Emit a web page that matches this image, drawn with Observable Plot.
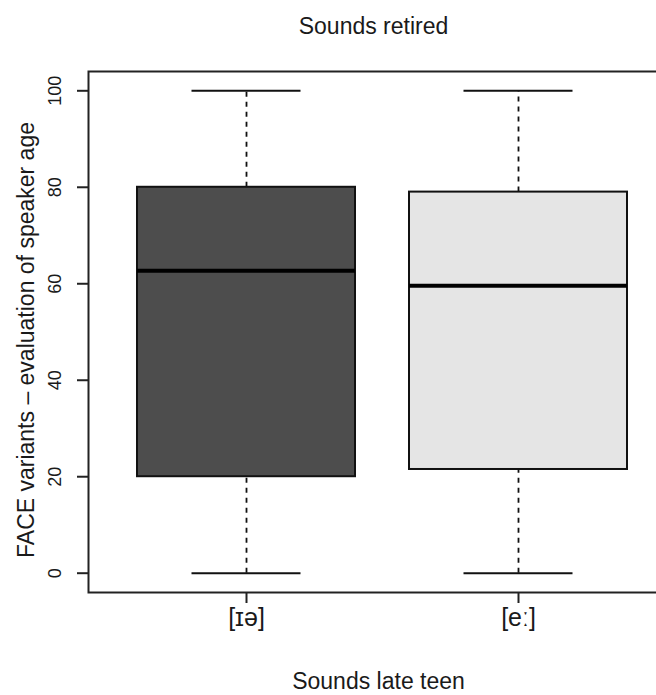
<!DOCTYPE html>
<html>
<head>
<meta charset="utf-8">
<script src="https://cdn.jsdelivr.net/npm/d3@7"></script>
<script src="https://cdn.jsdelivr.net/npm/@observablehq/plot@0.6"></script>
<style>
  html, body { margin: 0; padding: 0; background: #fff; overflow: hidden; }
  #chart svg { display: block; }
</style>
</head>
<body>
<div id="chart"></div>
<script>
// Evaluation of speaker age by FACE variant (five-number summaries per box)
const categories = ["[ɪə]", "[eː]"];
const lowerWhisker = [0, 0];
const lowerQuartile = [20, 21.5];
const medianValue = [62.7, 59.6];
const upperQuartile = [80, 79];
const upperWhisker = [100, 100];
const yTicks = [0, 20, 40, 60, 80, 100];
const boxFill = ["#4d4d4d", "#e5e5e5"];

const titleText = "Sounds retired";
const xLabel = "Sounds late teen";
const yLabel = "FACE variants \u2013 evaluation of speaker age";

const rows = categories.map((sound, i) => ({
  sound,
  lo: lowerWhisker[i],
  q1: lowerQuartile[i],
  med: medianValue[i],
  q3: upperQuartile[i],
  hi: upperWhisker[i]
}));

const ink = "#1a1a1a";

const chart = Plot.plot({
  width: 680,
  height: 695,
  marginLeft: 88,
  marginRight: 4,
  marginTop: 71,
  marginBottom: 103,
  style: {
    fontFamily: "'Liberation Sans', Arial, Helvetica, sans-serif",
    background: "white",
    color: ink,
    maxWidth: "none",
    overflow: "hidden"
  },
  x: {domain: categories, paddingInner: 0.2, paddingOuter: 0.18},
  y: {domain: [-4, 104]},
  color: {domain: categories, range: boxFill},
  marks: [
    // whiskers
    Plot.ruleX(rows, {x: "sound", y1: "lo", y2: "q1", stroke: "#111", strokeWidth: 1.8, strokeDasharray: "5,5"}),
    Plot.ruleX(rows, {x: "sound", y1: "q3", y2: "hi", stroke: "#111", strokeWidth: 1.8, strokeDasharray: "5,5"}),
    // staples
    Plot.tickY(rows, {x: "sound", y: "lo", insetLeft: 54.5, insetRight: 54.5, stroke: "#111", strokeWidth: 2}),
    Plot.tickY(rows, {x: "sound", y: "hi", insetLeft: 54.5, insetRight: 54.5, stroke: "#111", strokeWidth: 2}),
    // boxes
    Plot.barY(rows, {x: "sound", y1: "q1", y2: "q3", fill: "sound", stroke: "#111", strokeWidth: 2}),
    // medians
    Plot.tickY(rows, {x: "sound", y: "med", stroke: "#000", strokeWidth: 4}),
    Plot.frame({stroke: "#222", strokeWidth: 2}),
    Plot.axisX({tickSize: 11, tickPadding: 5, fontSize: 25, label: null, stroke: "#222", strokeWidth: 2}),
    Plot.axisY({ticks: yTicks, tickSize: 11, tickRotate: -90, tickPadding: 17, fontSize: 18, label: null, stroke: "#222", strokeWidth: 2}),
    // title and axis titles
    Plot.text([titleText], {frameAnchor: "top", dx: -9, dy: -38, lineAnchor: "bottom", fontSize: 23, fill: ink}),
    Plot.text([xLabel], {frameAnchor: "bottom", dx: -4, dy: 96, lineAnchor: "bottom", fontSize: 23, fill: ink}),
    Plot.text([yLabel], {frameAnchor: "left", dx: -55, dy: 8, rotate: -90, textAnchor: "middle", lineAnchor: "bottom", fontSize: 23, fill: ink})
  ]
});

document.getElementById("chart").append(chart);
</script>
</body>
</html>
